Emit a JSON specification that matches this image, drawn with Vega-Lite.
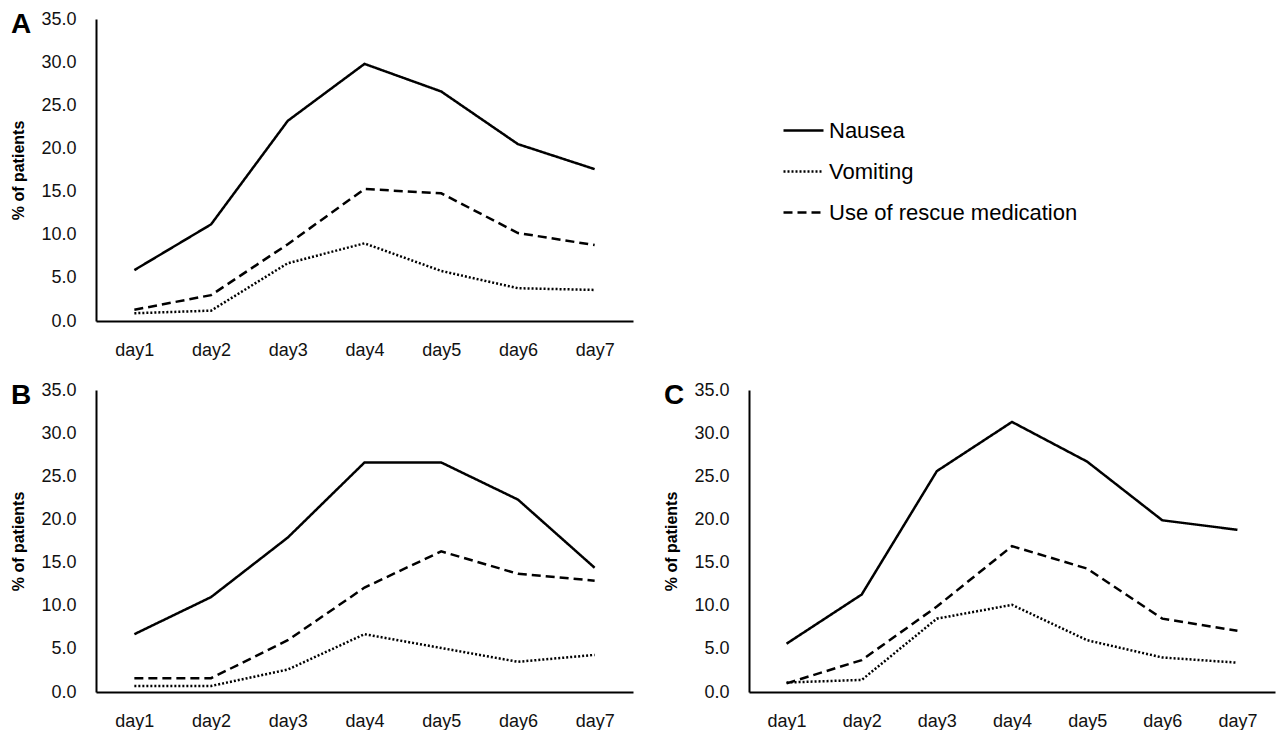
{
  "$schema": "https://vega.github.io/schema/vega-lite/v6.json",
  "background": "white",
  "padding": {"left": 10, "top": 10, "right": 5, "bottom": 0},
  "data": {"values": [
    {"panel": "A", "measure": "Nausea", "day": "day1", "value": 5.9},
    {"panel": "A", "measure": "Nausea", "day": "day2", "value": 11.2},
    {"panel": "A", "measure": "Nausea", "day": "day3", "value": 23.2},
    {"panel": "A", "measure": "Nausea", "day": "day4", "value": 29.8},
    {"panel": "A", "measure": "Nausea", "day": "day5", "value": 26.6},
    {"panel": "A", "measure": "Nausea", "day": "day6", "value": 20.5},
    {"panel": "A", "measure": "Nausea", "day": "day7", "value": 17.6},
    {"panel": "A", "measure": "Vomiting", "day": "day1", "value": 0.9},
    {"panel": "A", "measure": "Vomiting", "day": "day2", "value": 1.2},
    {"panel": "A", "measure": "Vomiting", "day": "day3", "value": 6.7},
    {"panel": "A", "measure": "Vomiting", "day": "day4", "value": 9.0},
    {"panel": "A", "measure": "Vomiting", "day": "day5", "value": 5.8},
    {"panel": "A", "measure": "Vomiting", "day": "day6", "value": 3.8},
    {"panel": "A", "measure": "Vomiting", "day": "day7", "value": 3.6},
    {"panel": "A", "measure": "Use of rescue medication", "day": "day1", "value": 1.3},
    {"panel": "A", "measure": "Use of rescue medication", "day": "day2", "value": 3.0},
    {"panel": "A", "measure": "Use of rescue medication", "day": "day3", "value": 8.9},
    {"panel": "A", "measure": "Use of rescue medication", "day": "day4", "value": 15.3},
    {"panel": "A", "measure": "Use of rescue medication", "day": "day5", "value": 14.8},
    {"panel": "A", "measure": "Use of rescue medication", "day": "day6", "value": 10.2},
    {"panel": "A", "measure": "Use of rescue medication", "day": "day7", "value": 8.8},
    {"panel": "B", "measure": "Nausea", "day": "day1", "value": 6.7},
    {"panel": "B", "measure": "Nausea", "day": "day2", "value": 11.0},
    {"panel": "B", "measure": "Nausea", "day": "day3", "value": 17.9},
    {"panel": "B", "measure": "Nausea", "day": "day4", "value": 26.6},
    {"panel": "B", "measure": "Nausea", "day": "day5", "value": 26.6},
    {"panel": "B", "measure": "Nausea", "day": "day6", "value": 22.3},
    {"panel": "B", "measure": "Nausea", "day": "day7", "value": 14.4},
    {"panel": "B", "measure": "Vomiting", "day": "day1", "value": 0.7},
    {"panel": "B", "measure": "Vomiting", "day": "day2", "value": 0.7},
    {"panel": "B", "measure": "Vomiting", "day": "day3", "value": 2.6},
    {"panel": "B", "measure": "Vomiting", "day": "day4", "value": 6.7},
    {"panel": "B", "measure": "Vomiting", "day": "day5", "value": 5.1},
    {"panel": "B", "measure": "Vomiting", "day": "day6", "value": 3.5},
    {"panel": "B", "measure": "Vomiting", "day": "day7", "value": 4.3},
    {"panel": "B", "measure": "Use of rescue medication", "day": "day1", "value": 1.6},
    {"panel": "B", "measure": "Use of rescue medication", "day": "day2", "value": 1.6},
    {"panel": "B", "measure": "Use of rescue medication", "day": "day3", "value": 6.0},
    {"panel": "B", "measure": "Use of rescue medication", "day": "day4", "value": 12.1},
    {"panel": "B", "measure": "Use of rescue medication", "day": "day5", "value": 16.3},
    {"panel": "B", "measure": "Use of rescue medication", "day": "day6", "value": 13.7},
    {"panel": "B", "measure": "Use of rescue medication", "day": "day7", "value": 12.9},
    {"panel": "C", "measure": "Nausea", "day": "day1", "value": 5.6},
    {"panel": "C", "measure": "Nausea", "day": "day2", "value": 11.3},
    {"panel": "C", "measure": "Nausea", "day": "day3", "value": 25.6},
    {"panel": "C", "measure": "Nausea", "day": "day4", "value": 31.3},
    {"panel": "C", "measure": "Nausea", "day": "day5", "value": 26.7},
    {"panel": "C", "measure": "Nausea", "day": "day6", "value": 19.9},
    {"panel": "C", "measure": "Nausea", "day": "day7", "value": 18.8},
    {"panel": "C", "measure": "Vomiting", "day": "day1", "value": 1.1},
    {"panel": "C", "measure": "Vomiting", "day": "day2", "value": 1.4},
    {"panel": "C", "measure": "Vomiting", "day": "day3", "value": 8.5},
    {"panel": "C", "measure": "Vomiting", "day": "day4", "value": 10.1},
    {"panel": "C", "measure": "Vomiting", "day": "day5", "value": 6.0},
    {"panel": "C", "measure": "Vomiting", "day": "day6", "value": 4.0},
    {"panel": "C", "measure": "Vomiting", "day": "day7", "value": 3.4},
    {"panel": "C", "measure": "Use of rescue medication", "day": "day1", "value": 1.0},
    {"panel": "C", "measure": "Use of rescue medication", "day": "day2", "value": 3.7},
    {"panel": "C", "measure": "Use of rescue medication", "day": "day3", "value": 9.9},
    {"panel": "C", "measure": "Use of rescue medication", "day": "day4", "value": 16.9},
    {"panel": "C", "measure": "Use of rescue medication", "day": "day5", "value": 14.3},
    {"panel": "C", "measure": "Use of rescue medication", "day": "day6", "value": 8.5},
    {"panel": "C", "measure": "Use of rescue medication", "day": "day7", "value": 7.1}
  ]},
  "config": {
    "view": {"stroke": null},
    "font": "Liberation Sans",
    "axis": {
      "grid": false, "ticks": false,
      "domainColor": "black", "domainWidth": 2,
      "labelColor": "#111", "labelFont": "Liberation Sans", "labelFontSize": 18,
      "titleFont": "Liberation Sans", "titleFontSize": 16, "titleFontWeight": "bold", "titleColor": "black"
    },
    "title": {"fontSize": 28, "fontWeight": "bold", "anchor": "start", "frame": "bounds", "color": "black", "baseline": "top", "offset": -29}
  },
  "spacing": 22,
  "resolve": {"legend": {"strokeDash": "independent"}},
  "vconcat": [
    {
      "width": 537, "height": 302,
      "title": {"text": "A"},
      "transform": [{"filter": "datum.panel === 'A'"}],
      "mark": {"type": "line", "strokeWidth": 2.5, "color": "black"},
      "encoding": {
        "x": {"field": "day", "type": "ordinal", "scale": {"type": "point", "padding": 0.5}, "axis": {"title": null, "labelAngle": 0, "labelPadding": 20}},
        "y": {"field": "value", "type": "quantitative", "scale": {"domain": [0, 35], "nice": false}, "axis": {"title": "% of patients", "values": [0, 5, 10, 15, 20, 25, 30, 35], "format": ".1f", "labelPadding": 20, "titlePadding": 14}},
        "strokeDash": {"field": "measure", "type": "nominal",
          "scale": {"domain": ["Nausea", "Vomiting", "Use of rescue medication"], "range": [[1, 0], [2, 2], [9, 5]]},
          "legend": {"title": null, "orient": "none", "legendX": 686, "legendY": 90, "symbolType": "stroke", "symbolSize": 1600, "symbolStrokeWidth": 2.5, "symbolStrokeColor": "black", "labelFontSize": 22, "labelColor": "black", "labelOffset": 4, "rowPadding": 8, "labelLimit": 400}}
      }
    },
    {
      "hconcat": [
        {
          "width": 537, "height": 302,
          "title": {"text": "B"},
          "transform": [{"filter": "datum.panel === 'B'"}],
          "mark": {"type": "line", "strokeWidth": 2.5, "color": "black"},
          "encoding": {
            "x": {"field": "day", "type": "ordinal", "scale": {"type": "point", "padding": 0.5}, "axis": {"title": null, "labelAngle": 0, "labelPadding": 20}},
            "y": {"field": "value", "type": "quantitative", "scale": {"domain": [0, 35], "nice": false}, "axis": {"title": "% of patients", "values": [0, 5, 10, 15, 20, 25, 30, 35], "format": ".1f", "labelPadding": 20, "titlePadding": 14}},
            "strokeDash": {"field": "measure", "type": "nominal",
              "scale": {"domain": ["Nausea", "Vomiting", "Use of rescue medication"], "range": [[1, 0], [2, 2], [9, 5]]},
              "legend": null}
          }
        },
        {
          "width": 526, "height": 302,
          "title": {"text": "C"},
          "transform": [{"filter": "datum.panel === 'C'"}],
          "mark": {"type": "line", "strokeWidth": 2.5, "color": "black"},
          "encoding": {
            "x": {"field": "day", "type": "ordinal", "scale": {"type": "point", "padding": 0.5}, "axis": {"title": null, "labelAngle": 0, "labelPadding": 20}},
            "y": {"field": "value", "type": "quantitative", "scale": {"domain": [0, 35], "nice": false}, "axis": {"title": "% of patients", "values": [0, 5, 10, 15, 20, 25, 30, 35], "format": ".1f", "labelPadding": 20, "titlePadding": 14}},
            "strokeDash": {"field": "measure", "type": "nominal",
              "scale": {"domain": ["Nausea", "Vomiting", "Use of rescue medication"], "range": [[1, 0], [2, 2], [9, 5]]},
              "legend": null}
          }
        }
      ],
      "spacing": 30,
      "resolve": {"legend": {"strokeDash": "independent"}}
    }
  ]
}
